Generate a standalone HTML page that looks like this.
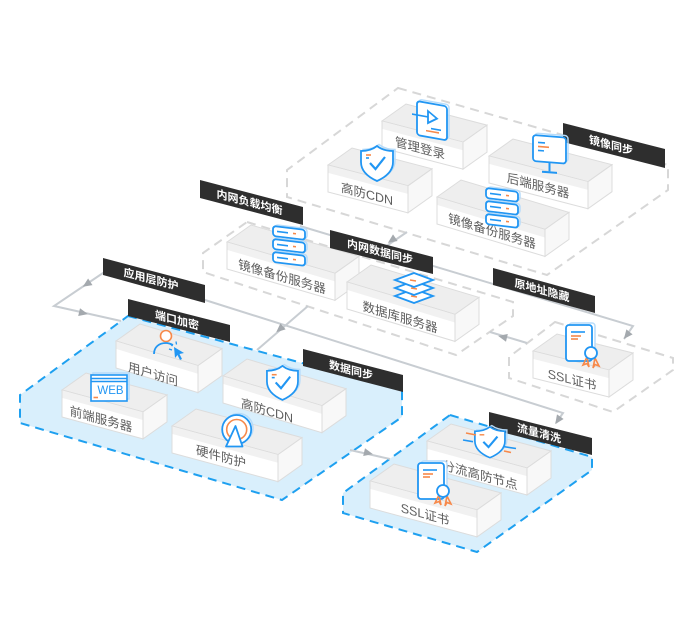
<!DOCTYPE html>
<html>
<head>
<meta charset="utf-8">
<style>
html,body{margin:0;padding:0;background:#fff;}
svg{display:block;}
.gr{fill:none;stroke:#d7d7d7;stroke-width:2;stroke-dasharray:9 6}
.bl{fill:#d9effc;stroke:#1ea0f0;stroke-width:2;stroke-dasharray:9 6}
.ln{fill:none;stroke:#c8cdd2;stroke-width:2}
.ar{fill:#a4a9ae}
.tp{fill:#eeeeee;stroke:#dcdcdc;stroke-width:1}
.fr{fill:#ffffff;stroke:#dcdcdc;stroke-width:1}
.lp{fill:#f1f1f1}
.sd{fill:#f8f8f8;stroke:#dcdcdc;stroke-width:1}
.bd{fill:#2e2e2e}
.bt{font-family:"Liberation Sans","Noto Sans CJK SC",sans-serif;font-size:11px;fill:#fff;font-weight:bold}
.lt{font-family:"Liberation Sans","Noto Sans CJK SC",sans-serif;font-size:12.5px;fill:#5e5e5e}
.ib{stroke:#2196f3;stroke-width:1.8;fill:#fff}
.is{stroke:#b7dcfa;stroke-width:1.5;fill:none}
.io{stroke:#f7894a;stroke-width:1.6;fill:none}
.il{stroke:#2196f3;stroke-width:1.6;fill:none}
</style>
</head>
<body>
<svg width="700" height="620" viewBox="0 0 700 620" xmlns="http://www.w3.org/2000/svg">
<rect width="700" height="620" fill="#fff"/>

<!-- Regions -->
<path class="gr" d="M398,88 L668,165 L668,190 L547,275 L287,197 L287,170 Z"/>
<path class="gr" d="M247,222 L513,302 L513,316 L456,355 L203,272 L203,253 Z"/>
<path class="gr" d="M555,322 L673,358 L673,370 L613,412 L509,378 L509,357 Z"/>
<path class="bl" d="M128,316 L402,390 L402,417 L282,500 L20,423 L20,395 Z"/>
<path class="bl" d="M450,415 L592,457 L592,470 L477,552 L343,513 L343,493 Z"/>

<!-- Connectors -->
<path class="ln" d="M300,226 L633,326 L624,339"/>
<path class="ln" d="M121,321 L54,306 L103,273 L205,300 L563,413 L556,423"/>
<path class="ln" d="M407,232 L385,247"/>
<path class="ln" d="M308,306 L257,350"/>
<path class="ln" d="M490,332 L527,343"/>
<path class="ln" d="M350,450 L390,459"/>

<polygon class="ar" points="82.8,286.7 92.5,285.1 88.1,278.5"/>
<polygon class="ar" points="87.9,314.1 78.2,316 80,308.2"/>
<polygon class="ar" points="387.9,242.9 397.6,241 393,234.4"/>
<polygon class="ar" points="276.2,332.3 285.6,329.4 280.4,323.4"/>
<polygon class="ar" points="498.1,335.9 507.8,334 506,341.8"/>
<polygon class="ar" points="372.9,454.1 363.2,456 365,448.2"/>
<polygon class="ar" points="555.2,424.1 563.6,419 557,414.4"/>
<polygon class="ar" points="623.9,338.9 632.6,334.4 626.4,329.4"/>

<!-- Boxes: top region -->
<g>
<polygon class="tp" points="382,121 406,104 487,125.1 463,142.1"/>
<polygon class="fr" points="382,121 463,142.1 463,169.1 382,148"/>
<polygon class="lp" points="382.5,121.5 462.5,142.3 462.5,150.1 382.5,129"/>
<polygon class="sd" points="463,142.1 487,125.1 487,152.1 463,169.1"/>

<polygon class="tp" points="489,156 513,139 612,164.7 588,181.7"/>
<polygon class="fr" points="489,156 588,181.7 588,208.7 489,183"/>
<polygon class="lp" points="489.5,156.5 587.5,181.9 587.5,189.7 489.5,164"/>
<polygon class="sd" points="588,181.7 612,164.7 612,191.7 588,208.7"/>

<polygon class="tp" points="328,165 352,148 432,168.8 408,185.8"/>
<polygon class="fr" points="328,165 408,185.8 408,212.8 328,192"/>
<polygon class="lp" points="328.5,165.5 407.5,186 407.5,193.8 328.5,173"/>
<polygon class="sd" points="408,185.8 432,168.8 432,195.8 408,212.8"/>

<polygon class="tp" points="437,197 461,180 569,212.4 545,229.4"/>
<polygon class="fr" points="437,197 545,229.4 545,256.4 437,224"/>
<polygon class="lp" points="437.5,197.5 544.5,229.6 544.5,237.4 437.5,205"/>
<polygon class="sd" points="545,229.4 569,212.4 569,239.4 545,256.4"/>
</g>

<!-- Boxes: 内网 region -->
<g>
<polygon class="tp" points="227,242 251,225 359,256.3 335,273.3"/>
<polygon class="fr" points="227,242 335,273.3 335,300.3 227,269"/>
<polygon class="lp" points="227.5,242.5 334.5,273.5 334.5,281.3 227.5,250"/>
<polygon class="sd" points="335,273.3 359,256.3 359,283.3 335,300.3"/>

<polygon class="tp" points="347,282 371,265 479,297.4 455,314.4"/>
<polygon class="fr" points="347,282 455,314.4 455,341.4 347,309"/>
<polygon class="lp" points="347.5,282.5 454.5,314.6 454.5,322.4 347.5,290"/>
<polygon class="sd" points="455,314.4 479,297.4 479,324.4 455,341.4"/>
</g>

<!-- SSL top box -->
<polygon class="tp" points="533,351 557,334 633,353 609,370"/>
<polygon class="fr" points="533,351 609,370 609,397 533,378"/>
<polygon class="lp" points="533.5,351.5 608.5,370.2 608.5,378 533.5,359"/>
<polygon class="sd" points="609,370 633,353 633,380 609,397"/>

<!-- Blue region 1 boxes -->
<polygon class="tp" points="116,341 140,324 222,348.6 198,365.6"/>
<polygon class="fr" points="116,341 198,365.6 198,392.6 116,368"/>
<polygon class="lp" points="116.5,341.5 197.5,365.8 197.5,373.6 116.5,349"/>
<polygon class="sd" points="198,365.6 222,348.6 222,375.6 198,392.6"/>

<polygon class="tp" points="62,390 86,373 167,394.9 143,411.9"/>
<polygon class="fr" points="62,390 143,411.9 143,438.9 62,417"/>
<polygon class="lp" points="62.5,390.5 142.5,412.1 142.5,419.9 62.5,398"/>
<polygon class="sd" points="143,411.9 167,394.9 167,421.9 143,438.9"/>

<polygon class="tp" points="223,376 247,359 346,388.7 322,405.7"/>
<polygon class="fr" points="223,376 322,405.7 322,432.7 223,403"/>
<polygon class="lp" points="223.5,376.5 321.5,405.9 321.5,413.7 223.5,384"/>
<polygon class="sd" points="322,405.7 346,388.7 346,415.7 322,432.7"/>

<polygon class="tp" points="172,426 196,409 302,437.6 278,454.6"/>
<polygon class="fr" points="172,426 278,454.6 278,481.6 172,453"/>
<polygon class="lp" points="172.5,426.5 277.5,454.8 277.5,462.6 172.5,434"/>
<polygon class="sd" points="278,454.6 302,437.6 302,464.6 278,481.6"/>

<!-- Blue region 2 boxes -->
<polygon class="tp" points="427,441 451,424 551,451 527,468"/>
<polygon class="fr" points="427,441 527,468 527,495 427,468"/>
<polygon class="lp" points="427.5,441.5 526.5,468.2 526.5,476 427.5,449"/>
<polygon class="sd" points="527,468 551,451 551,478 527,495"/>

<polygon class="tp" points="370,481 394,464 501,492.9 477,509.9"/>
<polygon class="fr" points="370,481 477,509.9 477,536.9 370,508"/>
<polygon class="lp" points="370.5,481.5 476.5,510.1 476.5,517.9 370.5,489"/>
<polygon class="sd" points="477,509.9 501,492.9 501,519.9 477,536.9"/>

<!-- Box labels -->
<text class="lt" text-anchor="middle" transform="matrix(1,0.26,0,1,420,152.5)">管理登录</text>
<text class="lt" text-anchor="middle" transform="matrix(1,0.26,0,1,367,198.5)">高防CDN</text>
<text class="lt" text-anchor="middle" transform="matrix(1,0.26,0,1,538,190)">后端服务器</text>
<text class="lt" text-anchor="middle" transform="matrix(1,0.3,0,1,492,235.5)">镜像备份服务器</text>
<text class="lt" text-anchor="middle" transform="matrix(1,0.29,0,1,282,281)">镜像备份服务器</text>
<text class="lt" text-anchor="middle" transform="matrix(1,0.3,0,1,400,321.5)">数据库服务器</text>
<text class="lt" text-anchor="middle" transform="matrix(1,0.25,0,1,572,384)">SSL证书</text>
<text class="lt" text-anchor="middle" transform="matrix(1,0.3,0,1,153,378.5)">用户访问</text>
<text class="lt" text-anchor="middle" transform="matrix(1,0.27,0,1,101,423.5)">前端服务器</text>
<text class="lt" text-anchor="middle" transform="matrix(1,0.3,0,1,267,415)">高防CDN</text>
<text class="lt" text-anchor="middle" transform="matrix(1,0.27,0,1,221,461)">硬件防护</text>
<text class="lt" text-anchor="middle" transform="matrix(1,0.27,0,1,480,479.5)">分流高防节点</text>
<text class="lt" text-anchor="middle" transform="matrix(1,0.27,0,1,425,518.5)">SSL证书</text>

<!-- Bands -->
<polygon class="bd" points="563,123 665,149 665,168 563,142"/>
<polygon class="bd" points="200,180 303,207 303,225 200,198"/>
<polygon class="bd" points="330,230 433,257 433,274 330,248"/>
<polygon class="bd" points="493,268 595,296 595,313 493,285"/>
<polygon class="bd" points="103,258 205,285 205,303 103,275"/>
<polygon class="bd" points="128,299 230,325 230,342 128,316"/>
<polygon class="bd" points="303,349 403,375 403,392 303,366"/>
<polygon class="bd" points="489,412 592,438 592,455 489,429"/>

<text class="bt" text-anchor="middle" transform="matrix(1,0.26,0,1,611,149)">镜像同步</text>
<text class="bt" text-anchor="middle" transform="matrix(1,0.26,0,1,249.5,206)">内网负载均衡</text>
<text class="bt" text-anchor="middle" transform="matrix(1,0.26,0,1,380,255.5)">内网数据同步</text>
<text class="bt" text-anchor="middle" transform="matrix(1,0.27,0,1,542,294)">原地址隐藏</text>
<text class="bt" text-anchor="middle" transform="matrix(1,0.26,0,1,151,283)">应用层防护</text>
<text class="bt" text-anchor="middle" transform="matrix(1,0.26,0,1,177,324)">端口加密</text>
<text class="bt" text-anchor="middle" transform="matrix(1,0.26,0,1,351,374)">数据同步</text>
<text class="bt" text-anchor="middle" transform="matrix(1,0.26,0,1,539,437)">流量清洗</text>

<!-- Icons -->
<!-- login -->
<g transform="matrix(1,0.18,0,1,417,101)">
<rect class="is" x="2" y="-2" width="30" height="34" rx="3"/>
<rect class="ib" x="0" y="0" width="30" height="34" rx="3"/>
<line class="il" x1="-5" y1="14" x2="11" y2="14"/>
<path class="ib" d="M11,8 L20,14 L11,20 Z"/>
<line class="il" x1="14" y1="25" x2="24" y2="25"/>
<line class="io" x1="9" y1="28" x2="22" y2="28"/>
</g>

<!-- shield top CDN -->
<g transform="translate(359,145)">
<path class="is" transform="translate(2,-1.5)" d="M18,1 C13,5 7,6 2,6 L2,17 C2,26 9,32 18,36 C27,32 34,26 34,17 L34,6 C29,6 23,5 18,1 Z"/>
<path class="ib" d="M18,1 C13,5 7,6 2,6 L2,17 C2,26 9,32 18,36 C27,32 34,26 34,17 L34,6 C29,6 23,5 18,1 Z"/>
<path d="M11,18 L16.5,24 L26,12" fill="none" stroke="#2196f3" stroke-width="2.2"/>
<line class="io" x1="7" y1="10" x2="12" y2="10"/>
<line class="il" x1="7" y1="13" x2="10" y2="13"/>
</g>

<!-- monitor -->
<g transform="matrix(1,0.08,0,1,533,135)">
<rect class="is" x="2" y="-2" width="33" height="26" rx="3"/>
<rect class="ib" x="0" y="0" width="33" height="26" rx="3"/>
<line class="il" x1="5" y1="7" x2="12" y2="7"/>
<line class="io" x1="5" y1="11" x2="16" y2="11"/>
<line class="il" x1="5" y1="15" x2="11" y2="15"/>
<line x1="16.5" y1="26" x2="16.5" y2="35" stroke="#2196f3" stroke-width="2"/>
<line x1="9" y1="36" x2="24" y2="36" stroke="#2196f3" stroke-width="2"/>
</g>

<!-- servers top -->
<g transform="matrix(1,0.12,0,1,486,188)">
<rect class="is" x="2" y="-1.5" width="32" height="10" rx="3"/>
<rect class="ib" x="0" y="0" width="32" height="10" rx="3"/>
<line class="il" x1="4" y1="5" x2="15" y2="5"/><line class="io" x1="20" y1="5" x2="23" y2="5" stroke-width="2"/>
<rect class="is" x="2" y="11.5" width="32" height="10" rx="3"/>
<rect class="ib" x="0" y="13" width="32" height="10" rx="3"/>
<line class="il" x1="4" y1="18" x2="15" y2="18"/><line class="io" x1="20" y1="18" x2="23" y2="18" stroke-width="2"/>
<rect class="is" x="2" y="24.5" width="32" height="10" rx="3"/>
<rect class="ib" x="0" y="26" width="32" height="10" rx="3"/>
<line class="il" x1="4" y1="31" x2="15" y2="31"/><line class="io" x1="20" y1="31" x2="23" y2="31" stroke-width="2"/>
</g>

<!-- servers 内网 -->
<g transform="matrix(1,0.12,0,1,273,226)">
<rect class="is" x="2" y="-1.5" width="32" height="10" rx="3"/>
<rect class="ib" x="0" y="0" width="32" height="10" rx="3"/>
<line class="il" x1="4" y1="5" x2="15" y2="5"/><line class="io" x1="20" y1="5" x2="23" y2="5" stroke-width="2"/>
<rect class="is" x="2" y="11.5" width="32" height="10" rx="3"/>
<rect class="ib" x="0" y="13" width="32" height="10" rx="3"/>
<line class="il" x1="4" y1="18" x2="15" y2="18"/><line class="io" x1="20" y1="18" x2="23" y2="18" stroke-width="2"/>
<rect class="is" x="2" y="24.5" width="32" height="10" rx="3"/>
<rect class="ib" x="0" y="26" width="32" height="10" rx="3"/>
<line class="il" x1="4" y1="31" x2="15" y2="31"/><line class="io" x1="20" y1="31" x2="23" y2="31" stroke-width="2"/>
</g>

<!-- layers -->
<g transform="translate(395,273)">
<path class="ib" d="M0,23 L19,16 L38,23 L19,30 Z"/>
<line class="io" x1="16" y1="23" x2="22" y2="24"/>
<path class="ib" d="M0,15 L19,8 L38,15 L19,22 Z"/>
<line class="io" x1="16" y1="15" x2="22" y2="16"/>
<path class="ib" d="M0,7 L19,0 L38,7 L19,14 Z"/>
<line class="io" x1="15" y1="7" x2="21" y2="8"/>
</g>

<!-- certificate top -->
<g transform="translate(566,325)">
<rect x="3" y="-2" width="26" height="36" rx="3" fill="#fff" stroke="#b7dcfa" stroke-width="1.5"/>
<rect class="ib" x="0" y="0" width="26" height="36" rx="3"/>
<line class="il" x1="5" y1="7" x2="19" y2="7"/>
<line class="io" x1="5" y1="11" x2="15" y2="11"/>
<line class="io" x1="5" y1="14" x2="12" y2="14"/>
<path class="io" d="M21,32 L17,40 L21,38.5 L23,42 Z"/>
<path class="io" d="M29,33 L33,41 L29,39.5 L27,43 Z"/>
<circle class="ib" cx="25" cy="28" r="6"/>
</g>

<!-- user -->
<g>
<circle cx="166" cy="336" r="5.5" fill="#fff" stroke="#f7894a" stroke-width="1.6"/>
<path d="M154,354 C154,347 159,343 166,343 C169,343 171,344 173,345" fill="none" stroke="#2196f3" stroke-width="1.8"/>
<path d="M174,347 L184,353 L179.5,354 L182,359 L180,360 L177.5,355 L175,358 Z" fill="#2196f3"/>
<line x1="169" y1="349" x2="172" y2="350" stroke="#2196f3" stroke-width="1.3"/>
<line x1="170.5" y1="344" x2="172.5" y2="346" stroke="#2196f3" stroke-width="1.3"/>
<line x1="176" y1="341.5" x2="176.5" y2="344.5" stroke="#2196f3" stroke-width="1.3"/>
</g>

<!-- WEB -->
<g transform="translate(91,375)">
<rect x="2" y="-2" width="36" height="26" fill="none" stroke="#b7dcfa" stroke-width="1.5"/>
<rect x="0" y="0" width="36" height="26" fill="#fff" stroke="#2196f3" stroke-width="1.6"/>
<line class="il" x1="0" y1="3.5" x2="36" y2="3.5" stroke-width="1.2"/>
<line class="il" x1="0" y1="6.5" x2="36" y2="6.5" stroke-width="1.2"/>
<text x="19.5" y="19" text-anchor="middle" font-family="'Liberation Sans',sans-serif" font-size="11.5" fill="#2196f3">WEB</text>
<line class="io" x1="2.5" y1="22.5" x2="7" y2="22.5"/>
</g>

<!-- shield blue CDN -->
<g transform="translate(265,365) scale(0.97)">
<path class="is" transform="translate(2,-1.5)" d="M18,1 C13,5 7,6 2,6 L2,17 C2,26 9,32 18,36 C27,32 34,26 34,17 L34,6 C29,6 23,5 18,1 Z"/>
<path class="ib" d="M18,1 C13,5 7,6 2,6 L2,17 C2,26 9,32 18,36 C27,32 34,26 34,17 L34,6 C29,6 23,5 18,1 Z"/>
<path d="M11,18 L16.5,24 L26,12" fill="none" stroke="#2196f3" stroke-width="2.2"/>
<line class="io" x1="7" y1="10" x2="12" y2="10"/>
<line class="il" x1="7" y1="13" x2="10" y2="13"/>
</g>

<!-- hardware -->
<g>
<circle cx="238.5" cy="428" r="14.5" fill="none" stroke="#b7dcfa" stroke-width="1.5"/>
<circle cx="236.7" cy="429.5" r="14.5" fill="#fff" stroke="#2196f3" stroke-width="1.8"/>
<circle cx="236.7" cy="429.5" r="10" fill="none" stroke="#f7894a" stroke-width="1.6"/>
<path d="M235.5,426 L242.5,446.5 L226,446.5 Z" fill="#fff" stroke="#2196f3" stroke-width="1.8" stroke-linejoin="round"/>
</g>

<!-- certificate blue -->
<g transform="translate(418,463)">
<rect x="3" y="-2" width="26" height="36" rx="3" fill="#fff" stroke="#b7dcfa" stroke-width="1.5"/>
<rect class="ib" x="0" y="0" width="26" height="36" rx="3"/>
<line class="il" x1="5" y1="7" x2="19" y2="7"/>
<line class="io" x1="5" y1="11" x2="15" y2="11"/>
<line class="io" x1="5" y1="14" x2="12" y2="14"/>
<path class="io" d="M21,32 L17,40 L21,38.5 L23,42 Z"/>
<path class="io" d="M29,33 L33,41 L29,39.5 L27,43 Z"/>
<circle class="ib" cx="25" cy="28" r="6"/>
</g>

<!-- shield 分流 -->
<g transform="translate(473,426) scale(0.94,0.88)">
<path class="is" transform="translate(2,-1.5)" d="M18,1 C13,5 7,6 2,6 L2,17 C2,26 9,32 18,36 C27,32 34,26 34,17 L34,6 C29,6 23,5 18,1 Z"/>
<path class="ib" d="M18,1 C13,5 7,6 2,6 L2,17 C2,26 9,32 18,36 C27,32 34,26 34,17 L34,6 C29,6 23,5 18,1 Z"/>
<path d="M11,18 L16.5,24 L26,12" fill="none" stroke="#2196f3" stroke-width="2.3"/>
<line class="io" x1="7" y1="10" x2="12" y2="10"/>
</g>
<line class="io" x1="466" y1="433" x2="476" y2="435"/>
<line class="il" x1="463" y1="440" x2="473" y2="441.7"/>
<line class="il" x1="503" y1="446.5" x2="516" y2="448.5"/>
<line class="io" x1="504" y1="451" x2="511" y2="452.5"/>
</svg>
</body>
</html>
